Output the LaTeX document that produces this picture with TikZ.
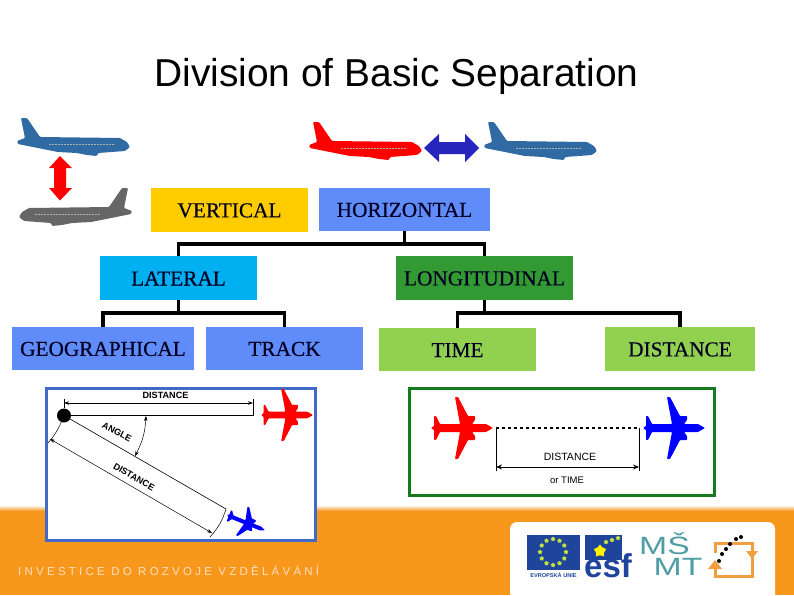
\documentclass[tikz,border=0pt]{standalone}
\usepackage{fontspec}
\setmainfont{Liberation Serif}
\newfontfamily\arialfont{Liberation Sans}
\newfontfamily\boxfont[FakeBold=0.4]{Liberation Serif}
\newfontfamily\bandfont[LetterSpace=28.2]{Liberation Sans}
\usetikzlibrary{arrows.meta,shapes.geometric}
\definecolor{bandorange}{HTML}{F7981D}
\definecolor{planeblue}{HTML}{2F6AA3}
\definecolor{planegrey}{HTML}{666666}
\definecolor{boxyellow}{HTML}{FFCC00}
\definecolor{boxblue}{HTML}{608CFA}
\definecolor{boxcyan}{HTML}{00B0F0}
\definecolor{boxgreen}{HTML}{339933}
\definecolor{boxlime}{HTML}{92D050}
\definecolor{frameblue}{HTML}{4169C8}
\definecolor{framegreen}{HTML}{157A1E}
\definecolor{textnavy}{HTML}{000022}
\definecolor{eublue}{HTML}{1E449C}
\definecolor{logoteal}{HTML}{4F9EA6}
\definecolor{logoorange}{HTML}{F0A040}
\tikzset{
  boxnode/.style = {inner sep = 0pt, text = textnavy, text height = 15pt, font = \boxfont\fontsize{21.3}{24}\selectfont},
  branch/.style = {line width = 3.2pt},
  dimline/.style = {line width = 0.5pt, {Stealth[length=5pt,width=3.5pt]}-{Stealth[length=5pt,width=3.5pt]}},
  figlabel/.style = {inner sep = 0pt, font = \arialfont\bfseries\fontsize{9.1}{11}\selectfont},
  eustar/.style = {star, star points = 5, fill = yellow!70!green!80!white, inner sep = 0pt, minimum size = 5pt},
  logotext/.style = {inner sep = 0pt, text = logoteal, xscale = 1.35, transform shape, font = \arialfont\fontsize{25}{25}\selectfont}
}
% side view of the airliner, origin at the top left
\newcommand{\sideplane}[1]{
  \fill [#1, rounded corners = 1pt] (4, 0) -- (10, 0) -- (23, 19) -- (103, 20) -- (110, 24) -- (113, 29) -- (108, 33) -- (81, 35) -- (80, 38) -- (70, 37) -- (60, 35) -- (41, 34) -- (1, 26) -- (0, 23) -- (8, 20) -- cycle;
  \draw [#1, white!70!black, line width = 0.6pt, dash pattern = on 2pt off 1pt] (32, 26) -- (98, 26);
}
% top view of the airliner, origin at the tail end
\newcommand{\topplane}[1]{
  \fill [#1, rounded corners = 0.7pt] (0, 0) -- (3, -2) -- (3, -12) -- (5, -12) -- (9, -4) -- (29, -4) -- (24, -31) -- (27, -31) -- (37, -12) -- (44, -12) -- (44, -8) -- (41, -4) -- (55, -4) -- (62, 0) -- (55, 4) -- (41, 4) -- (44, 8) -- (44, 12) -- (37, 12) -- (27, 31) -- (24, 31) -- (29, 4) -- (9, 4) -- (5, 12) -- (3, 12) -- (3, 2) -- cycle;
}
\begin{document}
\begin{tikzpicture}[x = 1pt, y = -1pt, >=Stealth]
  \useasboundingbox (0, 0) rectangle (794, 595);
  \fill [white] (0, 0) rectangle (794, 595);

  % orange band and logo panel
  \shade [top color = white, bottom color = bandorange] (0, 505) rectangle (794, 511);
  \fill [bandorange] (0, 511) rectangle (794, 595);
  \node [anchor = west, inner sep = 0pt, text = orange!25!white, font = \bandfont\fontsize{11.5}{13}\selectfont] (slogan) at (18, 571) {INVESTICE DO ROZVOJE VZDĚLÁVÁNÍ};
  \fill [white, rounded corners = 7pt] (510, 600) -- (510, 522) -- (775, 522) -- (775, 600);

  % title
  \node [anchor = base, inner sep = 0pt, font = \arialfont\fontsize{38.9}{44}\selectfont] (title) at (396.5, 86) {Division of Basic Separation};

  % aircraft and arrows on top
  \sideplane{planeblue, shift = {(17, 118)}}
  \sideplane{red, shift = {(309, 122)}}
  \sideplane{planeblue, shift = {(484, 122)}}
  \sideplane{planegrey, shift = {(132, 188)}, xscale = -1}
  \fill [red] (60, 156) -- (72, 168) -- (66, 168) -- (66, 188) -- (72, 188) -- (60, 200.5) -- (49, 188) -- (54, 188) -- (54, 168) -- (49, 168) -- cycle;
  \fill [blue!70!black!85!white] (424, 148) -- (439, 134) -- (439, 142) -- (465, 142) -- (465, 134) -- (479, 148) -- (465, 162) -- (465, 154) -- (439, 154) -- (439, 162) -- cycle;

  % boxes
  \node [boxnode, fill = boxyellow, minimum width = 157pt, minimum height = 44pt] (vertical) at (229.5, 210) {VERTICAL};
  \node [boxnode, fill = boxblue, minimum width = 171pt, minimum height = 43pt] (horizontal) at (404.5, 209.5) {HORIZONTAL};
  \node [boxnode, fill = boxcyan, minimum width = 157pt, minimum height = 44pt] (lateral) at (178.5, 278) {LATERAL};
  \node [boxnode, fill = boxgreen, minimum width = 177pt, minimum height = 44pt] (longitudinal) at (484.5, 278) {LONGITUDINAL};
  \node [boxnode, fill = boxblue, minimum width = 182pt, minimum height = 43pt] (geographical) at (103, 348.5) {GEOGRAPHICAL};
  \node [boxnode, fill = boxblue, minimum width = 157pt, minimum height = 43pt] (track) at (284.5, 348.5) {TRACK};
  \node [boxnode, fill = boxlime, minimum width = 157pt, minimum height = 43pt] (time) at (457.5, 349.5) {TIME};
  \node [boxnode, fill = boxlime, minimum width = 150pt, minimum height = 44pt] (distance) at (680, 349) {DISTANCE};

  % branches
  \coordinate (horizontalfork) at (404.5, 244);
  \coordinate (lateralfork) at (178.5, 313);
  \coordinate (longitudinalfork) at (484.5, 313);
  \draw [branch] (horizontal.south) -- (horizontalfork);
  \draw [branch] (lateral.north) |- (horizontalfork) -| (longitudinal.north);
  \draw [branch] (lateral.south) -- (lateralfork);
  \draw [branch] (geographical.north) |- (lateralfork) -| (track.north);
  \draw [branch] (longitudinal.south) -- (longitudinalfork);
  \draw [branch] (time.north) |- (longitudinalfork) -| (distance.north);

  % lateral figure
  \draw [frameblue, fill = white, line width = 3pt] (46, 388) rectangle (315, 540);
  \node [circle, fill = black, inner sep = 0pt, minimum size = 14pt] (fix) at (64, 415.5) {};
  \coordinate (rangeend) at (253, 415.5);
  \coordinate (rangetickleft) at (64, 399);
  \coordinate (rangetickright) at (253, 399);
  \coordinate (rangeleft) at (64, 403);
  \coordinate (rangeright) at (253, 403);
  \draw [line width = 0.8pt] (fix) -- (rangeend) -- (rangetickright);
  \draw [line width = 0.5pt] (fix) -- (rangetickleft);
  \draw [dimline] (rangeleft) -- (rangeright);
  \node [figlabel] (rangelabel) at (165.5, 395) {DISTANCE};
  \coordinate (slantend) at (226, 509);
  \coordinate (slantleft) at (50, 439);
  \coordinate (slantright) at (212, 533);
  \coordinate (slanttickleft) at (48, 443);
  \coordinate (slanttickright) at (210, 537);
  \draw [line width = 0.6pt] (fix) -- (slantend);
  \draw [line width = 0.5pt] (fix) to [bend left = 8] (slanttickleft);
  \draw [line width = 0.5pt] (slantend) to [bend left = 12] (slanttickright);
  \draw [dimline] (slantleft) -- (slantright);
  \coordinate (anglestart) at (146, 416);
  \coordinate (angleend) at (135, 456);
  \draw [dimline] (anglestart) to [bend left = 12] (angleend);
  \node [figlabel, rotate = -28] (anglelabel) at (117, 432) {ANGLE};
  \node [figlabel, rotate = -30] (slantlabel) at (134, 477) {DISTANCE};
  \topplane{red, shift = {(261, 415)}, scale = 0.84}
  \topplane{blue, shift = {(227, 515)}, rotate = -22, xscale = 0.66, yscale = 0.5}

  % longitudinal figure
  \draw [framegreen, fill = white, line width = 3pt] (409, 388) rectangle (714, 495);
  \topplane{red, shift = {(431, 428)}}
  \topplane{blue, shift = {(643, 428)}}
  \coordinate (gapleft) at (496, 428);
  \coordinate (gapright) at (639, 428);
  \coordinate (gapbottomleft) at (496, 471);
  \coordinate (gapbottomright) at (639, 471);
  \coordinate (gaparrowleft) at (496, 467);
  \coordinate (gaparrowright) at (639, 467);
  \draw [line width = 1.1pt, dashed] (gapleft) -- (gapright);
  \draw [line width = 0.5pt] (gapbottomleft) -- (gapleft);
  \draw [line width = 0.5pt] (gapbottomright) -- (gapright);
  \draw [line width = 0.9pt, {Stealth[length=6pt,width=5pt]}-{Stealth[length=6pt,width=5pt]}] (gaparrowleft) -- (gaparrowright);
  \node [figlabel, font = \arialfont\fontsize{10.5}{12}\selectfont] (gaplabel) at (570, 457) {DISTANCE};
  \node [figlabel, font = \arialfont\fontsize{9.5}{11}\selectfont] (orlabel) at (567, 480) {or TIME};

  % EU flag
  \fill [eublue] (527, 535) rectangle (580, 570);
  \foreach \a in {0, 30, ..., 330} {
    \node [eustar] (flagstar\a) at ({553 + 13 * cos(\a)}, {552 + 13 * sin(\a)}) {};
  }
  \node [inner sep = 0pt, text = eublue, font = \arialfont\bfseries\fontsize{5.6}{7}\selectfont] (unionlabel) at (553.5, 575) {EVROPSKÁ UNIE};

  % esf logo
  \fill [eublue] (585, 535) rectangle (622, 560);
  \node [eustar, minimum size = 13pt, fill = yellow] (esfstarmain) at (600, 551) {};
  \node [eustar] (esfstara) at (606, 542) {};
  \node [eustar] (esfstarb) at (612, 540) {};
  \node [eustar] (esfstarc) at (618, 538) {};
  \node [anchor = base west, inner sep = 0pt, text = eublue, font = \arialfont\bfseries\fontsize{33}{33}\selectfont] (esflabel) at (584, 577) {esf};

  % MSMT logo
  \node [logotext] (msmtupper) at (664.5, 544) {MŠ};
  \node [logotext] (msmtlower) at (678, 567) {MT};

  % orange square logo
  \draw [logoorange, line width = 3pt] (715, 553) -- (715, 543) -- (752, 543) -- (752, 553);
  \draw [logoorange, line width = 3pt] (715, 566) -- (715, 576) -- (752, 576) -- (752, 557);
  \fill [logoorange] (708, 569) -- (715, 560) -- (722, 569) -- cycle;
  \fill [logoorange] (746, 551) -- (758, 551) -- (752, 559) -- cycle;
  \foreach \n/\x/\y in {1/719/561, 2/722/554, 3/726/549, 4/730/544, 5/736/539, 6/741/537} {
    \node [circle, fill = black, inner sep = 0pt, minimum size = 4pt] (logodot\n) at (\x, \y) {};
  }
\end{tikzpicture}
\end{document}
